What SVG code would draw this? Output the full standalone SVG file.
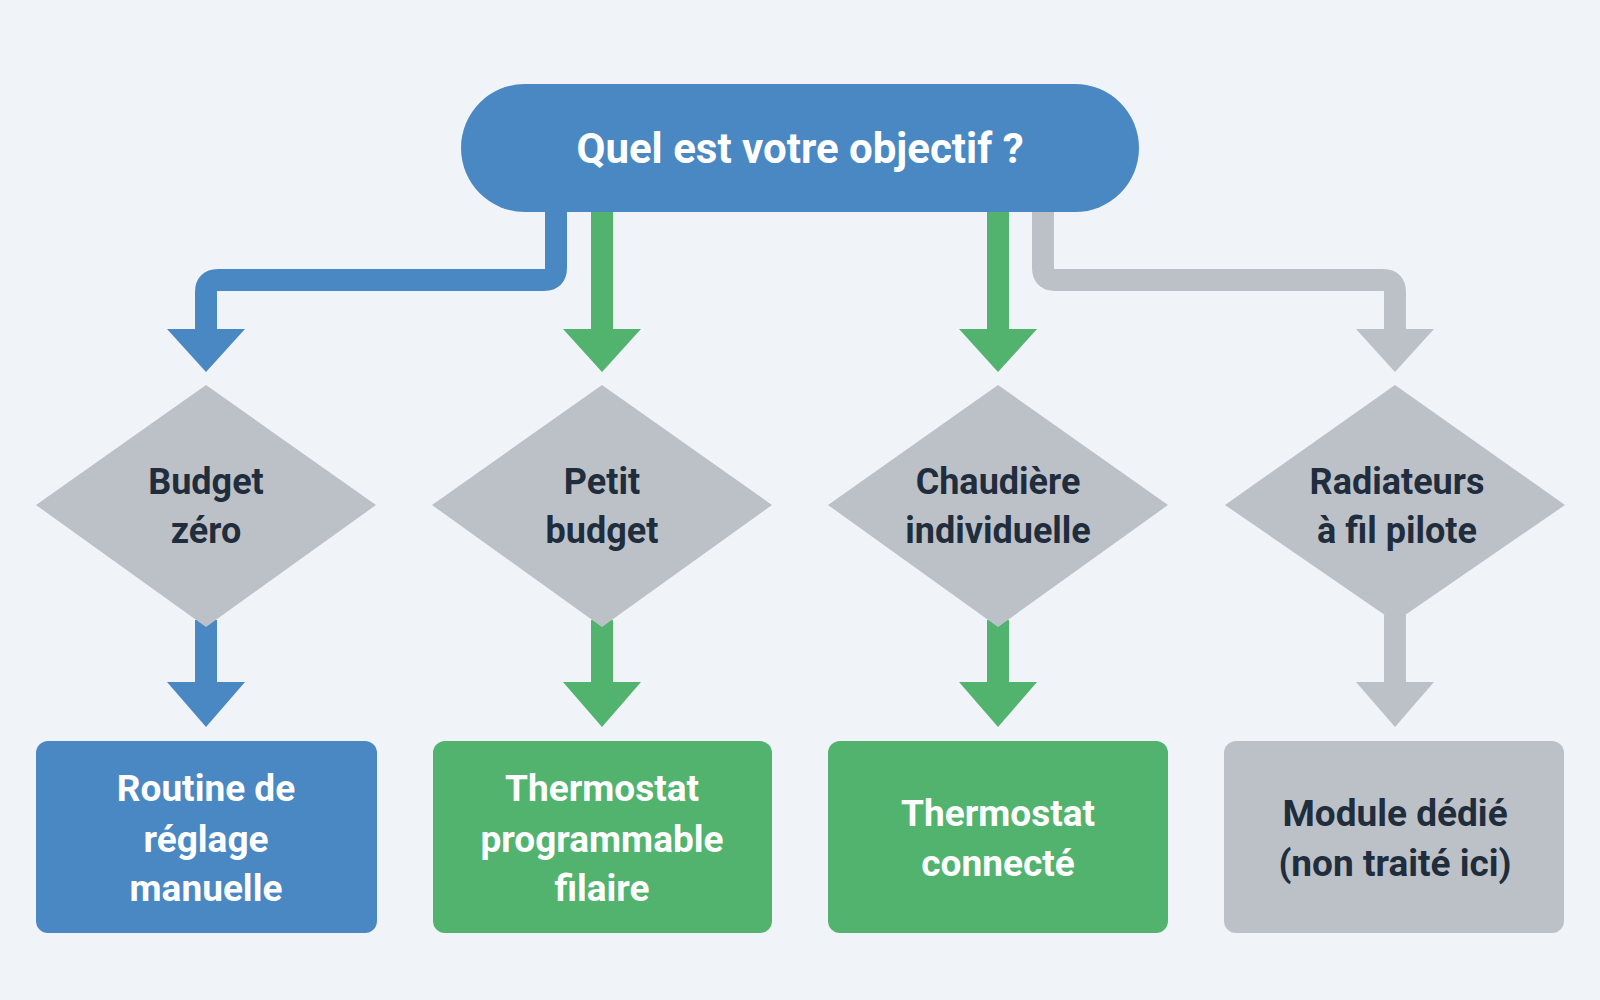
<svg xmlns="http://www.w3.org/2000/svg" width="1600" height="1000" viewBox="0 0 1600 1000">
<style>
text{font-family:Roboto,"Liberation Sans",sans-serif;font-weight:bold;text-anchor:middle;dominant-baseline:central}
.w{fill:#fff}.d{fill:#1f2d3d}
.dia{fill:#bcc1c8}
.ln{fill:none;stroke-width:22;stroke-linejoin:round}
</style>
<rect width="1600" height="1000" fill="#f0f4f8"/>
<g id="connectors">
<path class="ln" stroke="#4a88c4" d="M556 212V268Q556 280 544 280H218Q206 280 206 292V334"/>
<polygon fill="#4a88c4" points="167,329 245,329 206,372"/>
<path class="ln" stroke="#52b36e" d="M602 212V334"/>
<polygon fill="#52b36e" points="563,329 641,329 602,372"/>
<path class="ln" stroke="#52b36e" d="M998 212V334"/>
<polygon fill="#52b36e" points="959,329 1037,329 998,372"/>
<path class="ln" stroke="#bcc1c8" d="M1043 212V268Q1043 280 1055 280H1383Q1395 280 1395 292V334"/>
<polygon fill="#bcc1c8" points="1356,329 1434,329 1395,372"/>
<path class="ln" stroke="#4a88c4" d="M206 620V690"/>
<polygon fill="#4a88c4" points="167,682 245,682 206,727"/>
<path class="ln" stroke="#52b36e" d="M602 620V690"/>
<polygon fill="#52b36e" points="563,682 641,682 602,727"/>
<path class="ln" stroke="#52b36e" d="M998 620V690"/>
<polygon fill="#52b36e" points="959,682 1037,682 998,727"/>
<path class="ln" stroke="#bcc1c8" d="M1395 615V690"/>
<polygon fill="#bcc1c8" points="1356,682 1434,682 1395,727"/>
</g>
<g id="start">
<rect x="461" y="84" width="678" height="128" rx="64" fill="#4a88c4"/>
<text class="w" x="800" y="148" font-size="42">Quel est votre objectif ?</text>
</g>
<g id="d1"><polygon class="dia" points="206,385 376,505 206,627 36,505"/>
<text class="d" x="206" y="482" font-size="36">Budget</text><text class="d" x="206" y="531" font-size="36">zéro</text></g>
<g id="d2"><polygon class="dia" points="602,385 772,505 602,627 432,505"/>
<text class="d" x="602" y="482" font-size="36">Petit</text><text class="d" x="602" y="531" font-size="36">budget</text></g>
<g id="d3"><polygon class="dia" points="998,385 1168,505 998,627 828,505"/>
<text class="d" x="998" y="482" font-size="36">Chaudière</text><text class="d" x="998" y="531" font-size="36">individuelle</text></g>
<g id="d4"><polygon class="dia" points="1395,385 1565,505 1395,622 1225,505"/>
<text class="d" x="1397" y="482" font-size="36">Radiateurs</text><text class="d" x="1397" y="531" font-size="36">à fil pilote</text></g>
<g id="b1"><rect x="36" y="741" width="341" height="192" rx="12" fill="#4a88c4"/>
<text class="w" x="206" y="788" font-size="37">Routine de</text><text class="w" x="206" y="839" font-size="37">réglage</text><text class="w" x="206" y="888" font-size="37">manuelle</text></g>
<g id="b2"><rect x="433" y="741" width="339" height="192" rx="12" fill="#52b36e"/>
<text class="w" x="602" y="788" font-size="37">Thermostat</text><text class="w" x="602" y="839" font-size="37">programmable</text><text class="w" x="602" y="888" font-size="37">filaire</text></g>
<g id="b3"><rect x="828" y="741" width="340" height="192" rx="12" fill="#52b36e"/>
<text class="w" x="998" y="813" font-size="37">Thermostat</text><text class="w" x="998" y="863" font-size="37">connecté</text></g>
<g id="b4"><rect x="1224" y="741" width="340" height="192" rx="12" fill="#bcc1c8"/>
<text class="d" x="1395" y="813" font-size="37">Module dédié</text><text class="d" x="1395" y="863" font-size="37">(non traité ici)</text></g>
</svg>
